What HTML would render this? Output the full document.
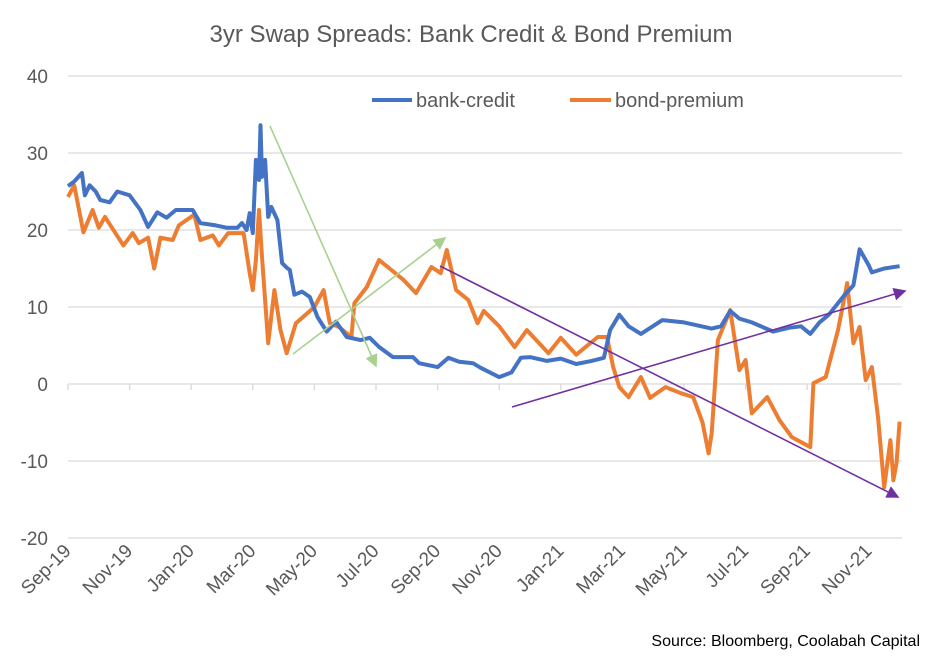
<!DOCTYPE html>
<html><head><meta charset="utf-8"><style>
body{margin:0;background:#fff;}
svg{display:block;font-family:"Liberation Sans",Calibri,sans-serif;}
</style></head><body>
<svg id="chart" width="941" height="661" viewBox="0 0 941 661">
<rect width="941" height="661" fill="#fff"/>
<text x="471" y="42" text-anchor="middle" font-size="24" fill="#595959">3yr Swap Spreads: Bank Credit &amp; Bond Premium</text>
<g id="grid"></g><g id="yt"></g><g id="xt"></g>
<g id="series"></g>
<g id="ann">
<defs>
<marker id="ag" markerWidth="8" markerHeight="8" refX="7" refY="4" orient="auto"><path d="M0,0 L8,4 L0,8 z" fill="#a9d18e"/></marker>
<marker id="ap" markerWidth="8" markerHeight="8" refX="7" refY="4" orient="auto"><path d="M0,0 L8,4 L0,8 z" fill="#7030a0"/></marker>
</defs>
<line x1="270" y1="126" x2="376" y2="366" stroke="#a9d18e" stroke-width="1.6" marker-end="url(#ag)"/>
<line x1="293" y1="354" x2="445" y2="238" stroke="#a9d18e" stroke-width="1.6" marker-end="url(#ag)"/>
<line x1="440" y1="266" x2="898" y2="497" stroke="#7030a0" stroke-width="1.6" marker-end="url(#ap)"/>
<line x1="512" y1="407" x2="905" y2="291" stroke="#7030a0" stroke-width="1.6" marker-end="url(#ap)"/>
</g>
<g>
<line x1="372" y1="100" x2="412" y2="100" stroke="#4472c4" stroke-width="4"/>
<text x="416" y="107" font-size="20" fill="#595959">bank-credit</text>
<line x1="570" y1="100" x2="611" y2="100" stroke="#ed7d31" stroke-width="4"/>
<text x="615" y="107" font-size="20" fill="#595959">bond-premium</text>
</g>
<text x="920" y="646" text-anchor="end" font-size="16" fill="#000">Source: Bloomberg, Coolabah Capital</text>
</svg>
<script>
const yTicks=[40,30,20,10,0,-10,-20];
const xLabels=["Sep-19","Nov-19","Jan-20","Mar-20","May-20","Jul-20","Sep-20","Nov-20","Jan-21","Mar-21","May-21","Jul-21","Sep-21","Nov-21"];
const bankMonths=[0,0.2,0.45,0.55,0.7,0.9,1.05,1.35,1.6,2.0,2.35,2.6,2.9,3.2,3.5,4.05,4.3,4.8,5.15,5.5,5.65,5.8,5.9,6.0,6.1,6.2,6.25,6.3,6.4,6.5,6.6,6.8,6.95,7.1,7.2,7.35,7.6,7.85,8.1,8.4,8.7,9.05,9.5,9.8,10.1,10.55,11.2,11.4,12.0,12.35,12.7,13.15,13.4,14.0,14.4,14.7,15.0,15.55,16.0,16.5,17.0,17.4,17.6,17.9,18.2,18.6,19.3,20.0,20.9,21.2,21.5,21.8,22.2,22.9,23.4,23.8,24.1,24.4,24.7,25.2,25.5,25.7,26.0,26.1,26.5,27.0];
const bankValues=[25.7,26.3,27.4,24.5,25.8,25,23.9,23.6,25,24.5,22.6,20.4,22.3,21.6,22.6,22.6,20.9,20.6,20.3,20.3,20.9,20,22.2,19.6,29.1,26.5,33.6,26.9,29.1,21.7,23,21.3,15.7,15.1,14.8,11.6,12,11.3,8.7,6.8,8.1,6.1,5.7,6,4.8,3.5,3.5,2.7,2.2,3.4,2.9,2.7,2.1,0.9,1.5,3.4,3.5,3.0,3.3,2.6,3.0,3.4,7,9,7.5,6.5,8.3,8,7.2,7.5,9.5,8.5,8,6.8,7.3,7.5,6.5,8,9,11.5,12.8,17.5,15.4,14.5,15,15.3];
const bondMonths=[0,0.2,0.5,0.8,1.0,1.2,1.8,2.1,2.3,2.6,2.8,3.0,3.4,3.6,4.1,4.3,4.7,4.9,5.2,5.7,5.9,6.0,6.1,6.2,6.3,6.5,6.7,6.9,7.1,7.4,8.0,8.3,8.5,8.8,9.2,9.3,9.7,10.1,10.5,10.9,11.3,11.8,12.1,12.3,12.6,13.0,13.3,13.5,14.0,14.5,14.9,15.6,16.0,16.5,17.2,17.5,17.7,17.9,18.2,18.6,18.9,19.4,19.9,20.3,20.6,20.8,20.9,21.1,21.5,21.8,22.0,22.2,22.7,23.1,23.5,24.1,24.2,24.6,25.0,25.3,25.4,25.5,25.7,25.9,26.1,26.3,26.5,26.7,26.8,26.9,27.0];
const bondValues=[24.3,25.8,19.7,22.6,20.3,21.7,18,19.6,18.3,19,15,19,18.7,20.6,22,18.7,19.3,18,19.6,19.6,14.4,12.2,16.1,22.6,16.5,5.3,12.2,7,4,7.9,10,12.2,7.9,7.4,6.1,10.5,12.6,16.1,14.8,13.5,11.8,15.2,14.4,17.4,12.2,10.9,7.9,9.5,7.5,4.8,7,4,6,3.8,6.1,6.1,2.2,-0.4,-1.7,0.9,-1.8,-0.4,-1.2,-1.7,-5,-9,-6.4,5.7,9.6,1.8,3.1,-3.8,-1.7,-4.7,-6.9,-8.2,0.1,0.9,7,13.1,9.2,5.3,7.4,0.5,2.2,-4.3,-13.4,-7.3,-12.5,-10.3,-4.9];
const NS="http://www.w3.org/2000/svg";
const X0=68,XM=30.8,Y0=384,YU=7.7;
function xs(m){return X0+m*XM;}
function ys(v){return Y0-v*YU;}
function mk(t,a,p){const e=document.createElementNS(NS,t);for(const k in a)e.setAttribute(k,a[k]);p.appendChild(e);return e;}
const grid=document.getElementById('grid'),yt=document.getElementById('yt'),xt=document.getElementById('xt'),ser=document.getElementById('series');
yTicks.forEach(v=>{
  if(v!==0){const g=mk('line',{x1:68,x2:902,y1:ys(v),y2:ys(v),stroke:'#d9d9d9','stroke-width':1.3},grid);
  
  }
  const t=mk('text',{x:48,y:ys(v)+7,'text-anchor':'end','font-size':19,fill:'#595959'},yt);
  t.textContent=v;
  
  
});
const ax=mk('line',{x1:68,x2:902,y1:ys(0),y2:ys(0),stroke:'#d9d9d9','stroke-width':1.3},grid);


xLabels.forEach((l,i)=>{
  const x=xs(i*2);
  const tk=mk('line',{x1:x,x2:x,y1:ys(0),y2:ys(0)+6,stroke:'#d9d9d9','stroke-width':1.3},grid);
  
  
  const t=mk('text',{x:x+4,y:552,'text-anchor':'end','font-size':19,fill:'#595959',transform:`rotate(-45 ${x+4} 552)`},xt);
  t.textContent=l;
  
  
});
function line(ms,vs,c,n){
  const d=ms.map((m,i)=>(i?'L':'M')+xs(m).toFixed(1)+','+ys(vs[i]).toFixed(1)).join(' ');
  const p=mk('path',{d:d,fill:'none',stroke:c,'stroke-width':4,'stroke-linejoin':'round'},ser);
  
  
}
line(bondMonths,bondValues,'#ed7d31','bond-premium-line');
line(bankMonths,bankValues,'#4472c4','bank-credit-line');
</script>
</body></html>
